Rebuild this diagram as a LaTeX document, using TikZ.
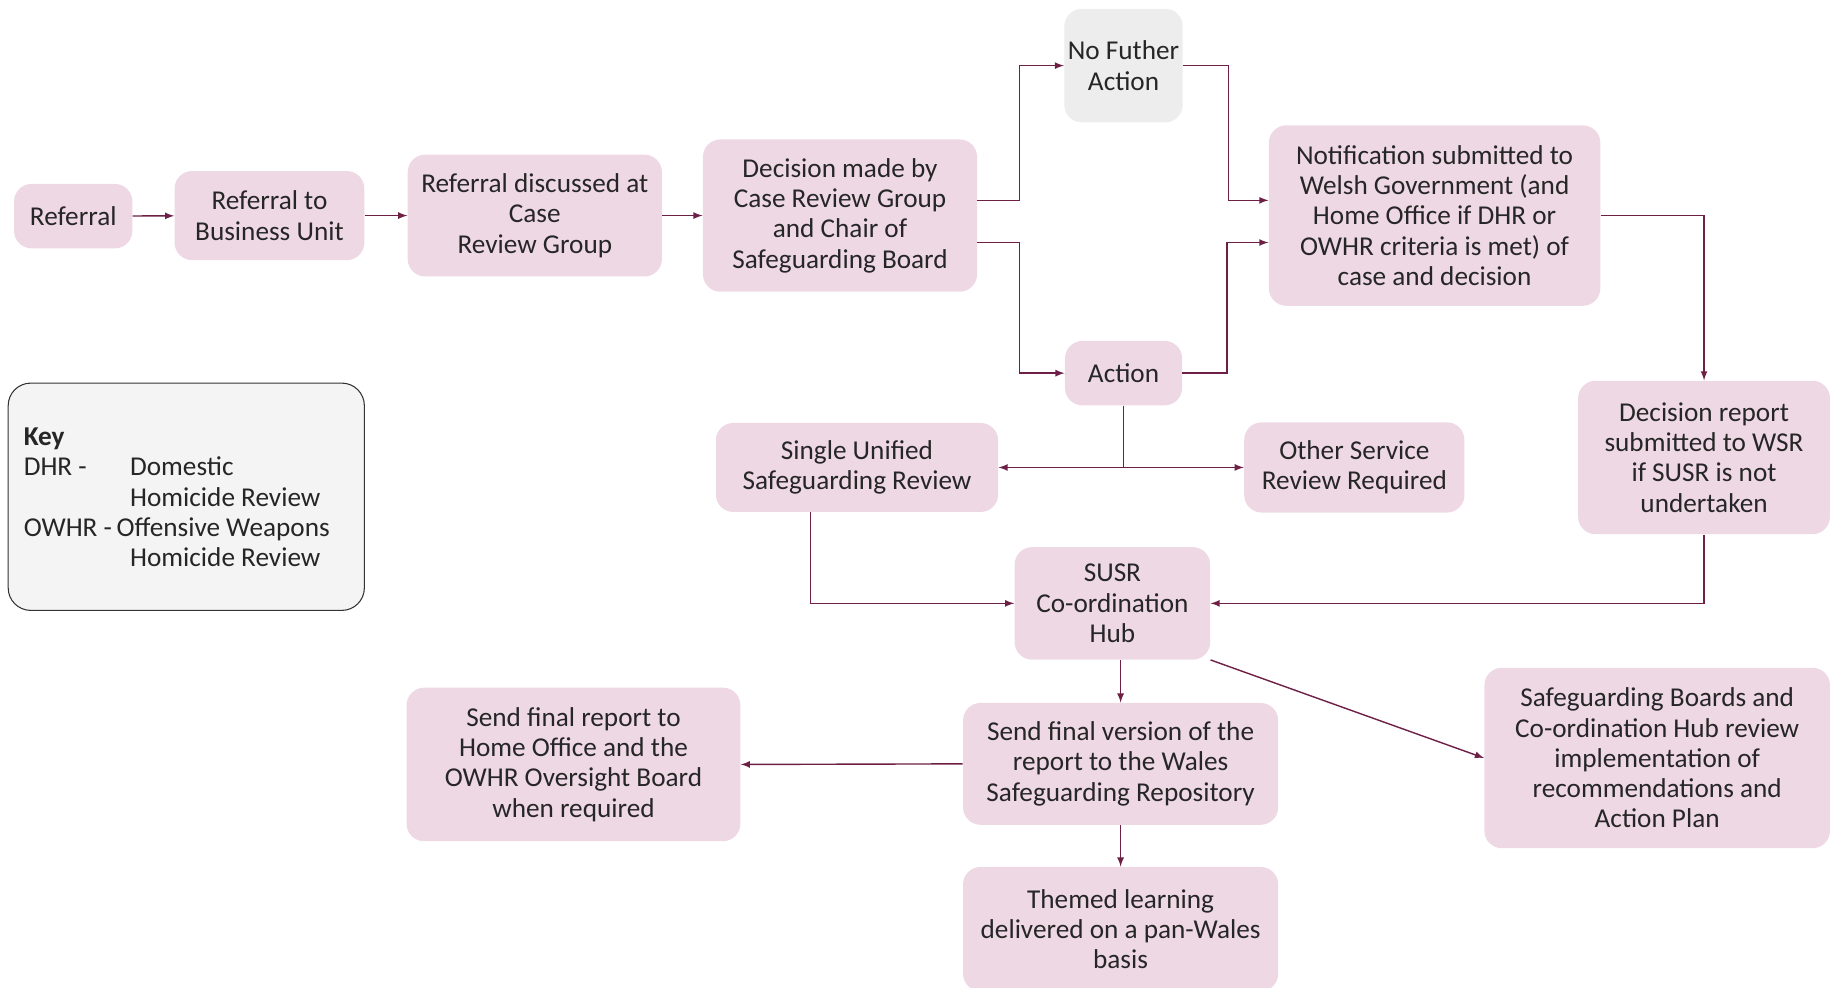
\documentclass[tikz,border=0pt]{standalone}
\usepackage{fontspec}
\setmainfont{Carlito}
\usepackage{xcolor}
\usetikzlibrary{calc}

\definecolor{boxpink}{HTML}{EED8E4}
\definecolor{boxgrey}{HTML}{EDEDED}
\definecolor{keygrey}{HTML}{F4F4F4}
\definecolor{linkred}{HTML}{6D1F45}
\newcommand{\px}{0.02343cm}

\tikzset{
  box/.style={fill=boxpink, rounded corners=0.35cm, align=center, inner sep=2pt,
    font=\fontsize{15.5}{17.2}\selectfont, text=black!85},
  greybox/.style={box, fill=boxgrey},
  link/.style={-latex, draw=linkred, line width=0.8pt}
}

\begin{document}
\begin{tikzpicture}[x=\px, y=-\px]
%		    \draw[help lines] (0,0) grid (1568,843);
			\useasboundingbox (0,0) rectangle (1568,843);
			\node[box, minimum width=101*\px, minimum height=55*\px] (ref) at (62.5,184.5) {Referral};
			\node[box, minimum width=162*\px, minimum height=76*\px] (bu) at (230,184) {Referral to\\Business Unit};
			\node[box, minimum width=217*\px, minimum height=104*\px] (crg) at (456.5,184) {Referral discussed at\\Case\\Review Group};
			\node[box, minimum width=234*\px, minimum height=130*\px] (dec) at (717,184) {Decision made by\\Case Review Group\\and Chair of\\Safeguarding Board};
			\node[greybox, minimum width=98*\px, minimum height=97*\px] (nfa) at (959,56) {No Futher\\Action};
			\node[box, minimum width=100*\px, minimum height=55*\px] (act) at (959,318.5) {Action};
			\node[box, minimum width=283*\px, minimum height=154*\px] (notif) at (1224.5,184) {Notification submitted to\\Welsh Government (and\\Home Office if DHR or\\OWHR criteria is met) of\\case and decision};
			\node[box, minimum width=215*\px, minimum height=131*\px] (rep) at (1454.5,390.5) {Decision report\\submitted to WSR\\if SUSR is not\\undertaken};
			\node[box, minimum width=241*\px, minimum height=76*\px] (sur) at (731.5,399) {Single Unified\\Safeguarding Review};
			\node[box, minimum width=188*\px, minimum height=77*\px] (osr) at (1156,399) {Other Service\\Review Required};
			\node[box, minimum width=167*\px, minimum height=96*\px] (hub) at (949.5,515) {SUSR\\Co-ordination\\Hub};
			\node[box, minimum width=285*\px, minimum height=131*\px] (fin) at (489.5,652.5) {Send final report to\\Home Office and the\\OWHR Oversight Board\\when required};
			\node[box, minimum width=269*\px, minimum height=104*\px] (ver) at (956.5,652) {Send final version of the\\report to the Wales\\Safeguarding Repository};
			\node[box, minimum width=295*\px, minimum height=154*\px] (sgb) at (1414.5,647) {Safeguarding Boards and\\Co-ordination Hub review\\implementation of\\recommendations and\\Action Plan};
			\node[box, minimum width=269*\px, minimum height=106*\px] (them) at (956.5,793) {Themed learning\\delivered on a pan-Wales\\basis};
			\node[draw=black!80, fill=keygrey, rounded corners=0.45cm, line width=0.6pt, minimum width=304*\px, minimum height=194*\px, inner sep=0pt] (key) at (159,424) {};
			\node[anchor=north west, inner sep=0pt, font=\fontsize{15.5}{17.2}\selectfont, text=black!85] (keytext) at (20,362) {\renewcommand{\arraystretch}{1}\begin{tabular}{@{}l@{\,}l@{}} \textbf{Key} & \\ DHR - & \hspace{0.5em}Domestic \\ & \hspace{0.5em}Homicide Review \\ OWHR - & Offensive Weapons \\ & \hspace{0.5em}Homicide Review \end{tabular}};
			\draw[link] (ref) -- (bu);
			\draw[link] (bu) -- (crg);
			\draw[link] (crg) -- (dec);
			\draw[link] ($(dec.east)+(0,-13)$) -- ++(36,0) |- (nfa.west);
			\draw[link] ($(dec.east)+(0,23)$) -- ++(36,0) |- (act.west);
			\draw[link] (nfa.east) -- ++(39,0) |- ($(notif.west)+(0,-13)$);
			\draw[link] (act.east) -- ++(38,0) |- ($(notif.west)+(0,23)$);
			\draw[link] (notif.east) -| (rep.north);
			\draw[link] (act.south) |- (sur.east);
			\draw[link] (act.south) |- (osr.west);
			\draw[link] ($(sur.south)+(-39.5,0)$) |- (hub.west);
			\draw[link] (rep.south) |- (hub.east);
			\draw[link] (hub.south -| ver.north) -- (ver.north);
			\draw[link] (hub.south east) -- (sgb.west);
			\draw[link] (ver.west) -- (fin.east);
			\draw[link] (ver.south) -- (them.north);
		\end{tikzpicture}
\end{document}
